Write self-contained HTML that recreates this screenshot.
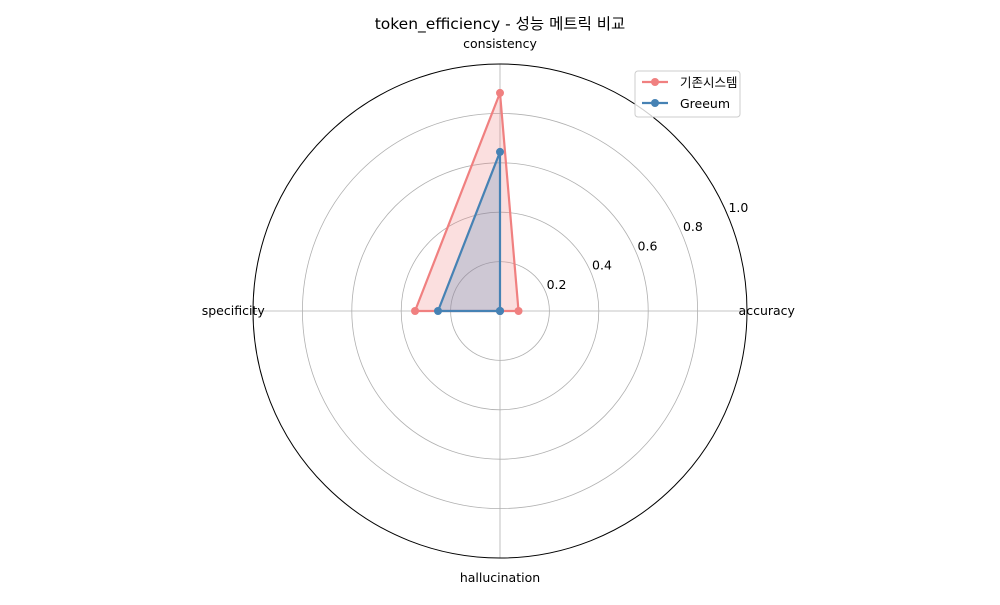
<!DOCTYPE html>
<html><head><meta charset="utf-8"><style>
body{margin:0;background:#fff}
svg{font-family:"DejaVu Sans","Liberation Sans","Noto Sans CJK KR",sans-serif}
</style></head><body>
<svg id="c" width="1000" height="600" xmlns="http://www.w3.org/2000/svg"></svg>
<script>
const categories=["accuracy","consistency","specificity","hallucination"];
const seriesNames=["기존시스템","Greeum"];
const seriesA=[0.075,0.883,0.344,0];
const seriesB=[0,0.644,0.251,0];
const ticks=[0.2,0.4,0.6,0.8,1.0];
const colors=["#f08080","#4682b4"];
const NS="http://www.w3.org/2000/svg";
const svg=document.getElementById('c');
const cx=500,cy=311,R=247;
function mk(t,a,p){const e=document.createElementNS(NS,t);for(const k in a)e.setAttribute(k,a[k]);(p||svg).appendChild(e);return e;}
function ang(i){return i*2*Math.PI/categories.length;}
function pt(i,v){return [cx+Math.cos(ang(i))*v*R, cy-Math.sin(ang(i))*v*R];}
ticks.slice(0,-1).forEach(t=>{const c=mk('circle',{cx:cx,cy:cy,r:t*R,fill:'none',stroke:'#b0b0b0','stroke-width':0.8});

});
categories.forEach((c,i)=>{const p=pt(i,1);const l=mk('line',{x1:cx,y1:cy,x2:p[0],y2:p[1],stroke:'#b0b0b0','stroke-width':0.8});


const lp=pt(i,1.08);const t=mk('text',{x:lp[0],y:lp[1]+4,'font-size':12.5,'text-anchor':'middle',fill:'#000'});t.textContent=c;

});
const outer=mk('circle',{cx:cx,cy:cy,r:R,fill:'none',stroke:'#000','stroke-width':1});


ticks.forEach(t=>{const a=23*Math.PI/180;const d=t*R+12;const x=cx+Math.cos(a)*d,y=cy-Math.sin(a)*d+2;
const e=mk('text',{x:x,y:y,'font-size':12.5,'text-anchor':'middle'});e.textContent=t.toFixed(1);

});
[seriesA,seriesB].forEach((s,k)=>{const pts=s.map((v,i)=>pt(i,v));const d=pts.map(p=>p.join(',')).join(' ');
const f=mk('polygon',{points:d,fill:colors[k],'fill-opacity':0.25,stroke:'none'});


const l=mk('polygon',{points:d,fill:'none',stroke:colors[k],'stroke-width':2.2});


pts.forEach(p=>{const c=mk('circle',{cx:p[0],cy:p[1],r:4,fill:colors[k]});

});});
const title=mk('text',{x:500,y:29,'font-size':15.5,'text-anchor':'middle'});title.textContent='token_efficiency - 성능 메트릭 비교';


const lg=mk('g',{});


mk('rect',{x:635,y:71,width:105,height:46,rx:3,fill:'#fff','fill-opacity':0.8,stroke:'#ccc'},lg);
seriesNames.forEach((n,k)=>{const y=82+k*21;
mk('line',{x1:642,y1:y,x2:668,y2:y,stroke:colors[k],'stroke-width':2.2},lg);
mk('circle',{cx:655,cy:y,r:4,fill:colors[k]},lg);
const t=mk('text',{x:680,y:y+5,'font-size':12.5},lg);t.textContent=n;

});
</script>
</body></html>
